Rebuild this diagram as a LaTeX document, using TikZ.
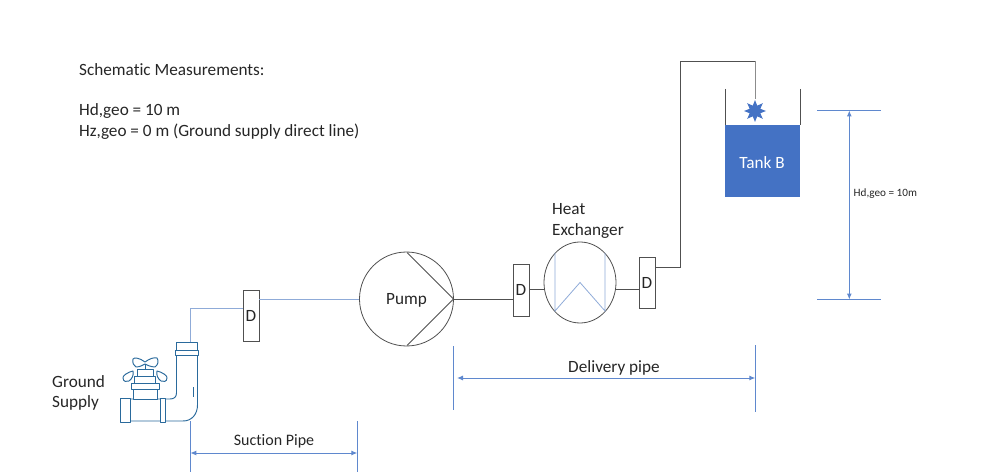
\documentclass[tikz,border=0pt]{standalone}
\usepackage{fontspec}
\setmainfont[Ligatures=NoCommon,Contextuals=NoAlternate]{Carlito}
\usetikzlibrary{arrows.meta,shapes.geometric,shapes.misc,calc,positioning}
\definecolor{lblue}{HTML}{8FABD8}
\definecolor{dimblue}{HTML}{5F88CE}
\definecolor{tankblue}{HTML}{4472C4}
\definecolor{dline}{HTML}{505050}
\definecolor{fau}{HTML}{2A6A9C}
\tikzset{
 txt/.style={inner sep=0pt,font=\fontsize{17.2}{20.8}\selectfont,text=black!85,align=left},
 dbox/.style={draw=dline,fill=white,line width=.8pt,minimum width=16pt,inner sep=0pt,font=\fontsize{17.2}{20}\selectfont,text=black!85,text height=11pt,text depth=0pt},
 pipe/.style={draw=dline,line width=.9pt},
 bpipe/.style={draw=lblue,line width=1pt},
 dimarrow/.style={draw=dimblue,line width=1pt,{Latex[length=6pt,width=5pt]}-{Latex[length=6pt,width=5pt]}},
 dimrule/.style={draw=dimblue,line width=1pt,-},
 faucet/.style={draw=fau,line width=.95pt,fill=white,line join=round},
}
\begin{document}
\begin{tikzpicture}[x=1pt,y=-1pt]
\useasboundingbox (0,0) rectangle (983,473);
% texts
\node[txt,anchor=west] (title) at (79,70) {Schematic Measurements:};
\node[txt,anchor=west] (hd) at (79,111.5) {Hd,geo = 10 m};
\node[txt,anchor=west] (hz) at (79,132) {Hz,geo = 0 m (Ground supply direct line)};
\node[txt,anchor=west] (gs) at (52,393) {Ground\\Supply};
\node[txt,font=\fontsize{16}{20}\selectfont] (sp) at (274,441.5) {Suction Pipe};
\node[txt] (dp) at (614,368) {Delivery pipe};
\node[txt,anchor=west] (he) at (552,221) {Heat\\Exchanger};
% dimensions first, so that the shapes sit on top of them
\coordinate (s1a) at (190.3,421); \coordinate (s1b) at (190.3,472);
\coordinate (s2a) at (357.3,421); \coordinate (s2b) at (357.3,472);
\path[dimrule,draw] (s1a) -- (s1b);
\path[dimrule,draw] (s2a) -- (s2b);
\coordinate (s1m) at (190.3,453); \coordinate (s2m) at (357.3,453);
\draw[dimarrow] (s1m) -- (s2m);
\coordinate (d1a) at (453.5,346); \coordinate (d1b) at (453.5,410);
\coordinate (d2a) at (755.3,345); \coordinate (d2b) at (755.3,412);
\path[dimrule,draw] (d1a) -- (d1b);
\path[dimrule,draw] (d2a) -- (d2b);
\coordinate (d1m) at (457,378); \coordinate (d2m) at (755.3,378);
\draw[dimarrow] (d1m) -- (d2m);
\coordinate (h1a) at (817,110.5); \coordinate (h1b) at (881,110.5);
\coordinate (h2a) at (817,299.5); \coordinate (h2b) at (881,299.5);
\path[dimrule,draw] (h1a) -- (h1b);
\path[dimrule,draw] (h2a) -- (h2b);
\coordinate (h1m) at (849.3,110.5); \coordinate (h2m) at (849.3,299.5);
\draw[dimarrow] (h1m) -- (h2m);
\node[inner sep=0pt,anchor=west,font=\fontsize{11.2}{13}\selectfont,text=black!85] (hdl) at (853.5,194) {Hd,geo = 10m};
% components
\node[dbox,minimum height=51pt] (d1) at (251,315.5) {D};
\node[draw=dline,line width=.8pt,circle,minimum size=94pt,inner sep=0pt] (pump) at (406.5,299) {};
\node[inner sep=0pt,font=\fontsize{17.2}{20}\selectfont,text=black!85] (pumpl) at (406.5,300.5) {Pump};
\node[dbox,minimum height=52pt] (d2) at (521,290) {D};
\node[draw=dline,line width=.8pt,ellipse,minimum width=72pt,minimum height=81pt,inner sep=0pt] (hx) at (580,282.5) {};
\node[dbox,minimum height=51pt] (d3) at (647,282.5) {D};
% pump triangle
\coordinate (ptop) at (407,252.5);
\coordinate (ptip) at (453.5,299);
\coordinate (pbot) at (407,345.5);
\draw[pipe,line width=.8pt] (ptop) -- (ptip) -- (pbot);
% heat exchanger inner
\coordinate (hxa) at (555,253);
\coordinate (hxb) at (555,311);
\coordinate (hxc) at (580,282.5);
\coordinate (hxd) at (605,311);
\coordinate (hxe) at (605,253);
\draw[bpipe,line width=.8pt] (hxa) -- (hxb) -- (hxc) -- (hxd) -- (hxe);
% tank
\fill[tankblue] (725,125) rectangle (800,197);
\coordinate (tl) at (725.5,89);
\coordinate (tlb) at (725.5,125);
\coordinate (tr) at (800.5,89);
\coordinate (trb) at (800.5,125);
\draw[pipe,line width=.8pt] (tl) -- (tlb);
\draw[pipe,line width=.8pt] (tr) -- (trb);
\node[inner sep=0pt,text=white,font=\fontsize{17.2}{20}\selectfont] (tank) at (762,162.5) {Tank B};
\node[star,star points=8,star point ratio=1.9,fill=tankblue,minimum size=22pt,inner sep=0pt] (spray) at (755,111) {};
% faucet
\begin{scope}
\draw[faucet] (176.5,355) -- (176.5,393) .. controls (176.5,397) and (174,399) .. (170,399) -- (125,399) -- (125,421) -- (183,421) .. controls (192,421) and (197.5,414) .. (197.5,405) -- (197.5,355) -- cycle;
\draw[faucet] (133,388) rectangle (157,399);
\draw[faucet] (131,383) rectangle (159,389);
\draw[faucet] (134,376) rectangle (155,383);
\draw[faucet] (137,369) rectangle (153,376);
\draw[faucet] (120,398) rectangle (130,422);
\draw[faucet] (160,398) rectangle (165,422);
\draw[faucet] (176,342) rectangle (197,351);
\draw[faucet] (175,350) rectangle (198,355);
\draw[faucet,line width=.8pt] (193.5,387) -- (193.5,397);
\draw[faucet] (145,362) .. controls (140,358) and (134,357) .. (133,359) .. controls (132,363) and (134,366) .. (136,367) .. controls (140,367) and (143,365) .. (145,364) .. controls (147,365) and (151,367) .. (155,367) .. controls (158,365) and (159,361) .. (157,358) .. controls (154,357) and (149,359) .. (145,362) -- cycle;
\draw[faucet] (145,364) -- (145,369);
\draw[faucet] (133,371) .. controls (128,372) and (122,376) .. (123,378) .. controls (123,382) and (127,382) .. (129,381) .. controls (132,379) and (134,375) .. (133,371) -- cycle;
\draw[faucet] (157,371) .. controls (162,372) and (168,376) .. (167,378) .. controls (167,382) and (163,382) .. (161,381) .. controls (158,379) and (156,375) .. (157,371) -- cycle;
\end{scope}
\coordinate (fautop) at (190,342);
% connectors
\draw[bpipe] (fautop) |- (d1.west |- 0,308);
\draw[bpipe] (d1.east |- 0,299) -- (pump.west);
\draw[pipe] (ptip) -- (d2.west |- ptip);
\draw[pipe] (d2.east |- 0,289) -- (hx.west |- 0,289);
\draw[pipe] (hx.east |- 0,289) -- (d3.west |- 0,289);
\coordinate (bend1) at (680,267);
\coordinate (bend2) at (680,61);
\coordinate (bend3) at (755,61);
\draw[pipe] (d3.east |- bend1) -- (bend1) -- (bend2) -- (bend3);
\draw[draw=black!45,line width=1pt] (bend3) -- (spray.north);
\end{tikzpicture}
\end{document}
